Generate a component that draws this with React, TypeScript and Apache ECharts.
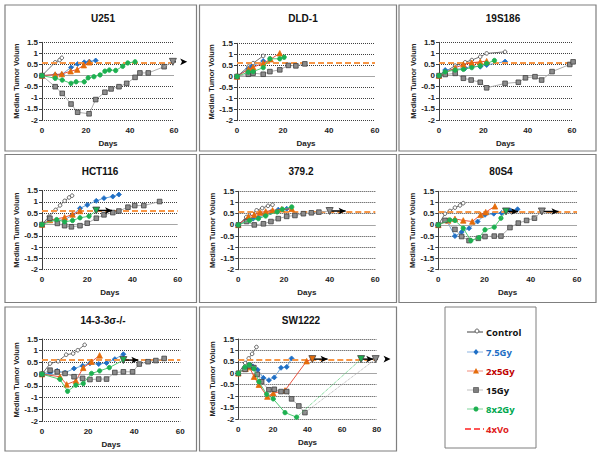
import React, { useEffect, useRef } from "react";
import * as echarts from "echarts";

type Pt = [number, number];

// ---------- data (days, median tumor volume) ----------
const TITLES = ["U251", "DLD-1", "19S186", "HCT116", "379.2", "80S4", "14-3-3σ-/-", "SW1222"];
const X_MAX = [60, 60, 60, 60, 60, 60, 60, 80];
const X_STEP = 20;
const Y_MIN = -2;
const Y_MAX = 1.5;
const Y_STEP = 0.5;
const FOUR_X_VOLUME = 0.6;

const U251_control: Pt[] = [[0, 0], [6, 0.6], [8, 0.7], [9, 0.8]];
const U251_g75: Pt[] = [[0, 0], [6, 0.04], [9, 0.05], [13.2, 0.37], [16.2, 0.52], [19.2, 0.6], [21.5, 0.63], [24.4, 0.68]];
const U251_g2x5: Pt[] = [[0, 0], [6, 0.05], [9, 0.07], [13, 0.2], [16, 0.27], [19, 0.47], [21.5, 0.6]];
const U251_g15: Pt[] = [[0, 0], [6, -0.5], [9.2, -0.8], [13.2, -1.28], [16.2, -1.65], [21.4, -1.72], [24.4, -1.08], [28.6, -0.75], [31.4, -0.6], [35, -0.5], [38.5, -0.35], [42.3, -0.08], [44.5, 0.12], [48.3, 0.12], [55.5, 0.4]];
const U251_g8x2: Pt[] = [[0, 0], [6, -0.12], [9.2, -0.2], [13.2, -0.35], [15.5, -0.28], [19.2, -0.28], [21, -0.1], [23.6, -0.05], [26.4, 0.03], [28.6, 0.2], [30.6, 0.25], [33.5, 0.23], [36.7, 0.42], [39, 0.57], [42.3, 0.62]];

const DLD1_control: Pt[] = [[0, 0], [5, 0.45], [7, 0.6], [11.4, 0.93]];
const DLD1_g75: Pt[] = [[0, 0], [4.9, 0.35], [6.4, 0.45], [11.4, 0.7]];
const DLD1_g2x5: Pt[] = [[0, 0], [5, 0.33], [7, 0.42], [11.4, 0.6], [14.6, 0.78], [18.6, 1.05]];
const DLD1_g15: Pt[] = [[0, 0], [4.9, 0.1], [7, 0.15], [11.4, 0.1], [14.3, 0.22], [18.6, 0.3], [22.3, 0.5], [25.6, 0.48], [29.5, 0.57]];
const DLD1_g8x2: Pt[] = [[0, 0], [4.9, 0.2], [7, 0.22], [11.4, 0.4], [14.3, 0.8], [18.6, 0.8], [20.5, 0.87]];

const S19_control: Pt[] = [[0, 0], [7.3, 0.45], [11.8, 0.6], [14.8, 0.7], [18.6, 0.85], [21.5, 1.0], [29.8, 1.07]];
const S19_g75: Pt[] = [[0, 0], [2.8, 0.25], [7.3, 0.28], [11.8, 0.33], [14.8, 0.43], [18.6, 0.4], [21.5, 0.48], [29.8, 0.63]];
const S19_g2x5: Pt[] = [[0, 0], [2.8, 0.13], [7.3, 0.35], [11, 0.5], [14.8, 0.58], [18.6, 0.62], [21.5, 0.65]];
const S19_g15: Pt[] = [[0, 0], [2.8, 0.05], [7.3, 0.1], [11, -0.12], [14.5, -0.2], [18.6, -0.3], [21.5, -0.55], [29.8, -0.35], [35.8, -0.3], [39, -0.1], [43.3, -0.05], [46.3, -0.2], [51, 0.18], [59, 0.5], [60.5, 0.62]];
const S19_g8x2: Pt[] = [[0, 0], [2.8, 0.17], [7.3, 0.25], [11, 0.28], [14.8, 0.36], [18.6, 0.44], [21.5, 0.55], [25, 0.68]];

const HCT_control: Pt[] = [[0, 0], [3, 0.35], [6, 0.65], [8, 0.85], [10, 1.05], [12, 1.2], [13.3, 1.28]];
const HCT_g75: Pt[] = [[0, 0], [3.5, 0.2], [10, 0.2], [13.5, 0.43], [16.8, 0.72], [20, 0.87], [24, 1.05], [27.4, 1.17], [31.3, 1.24], [34, 1.33]];
const HCT_g2x5: Pt[] = [[0, 0], [3.5, 0.2], [10, 0.32], [13.5, 0.45], [16.8, 0.6]];
const HCT_g15: Pt[] = [[0, 0], [3.5, 0.28], [6.8, 0.05], [10, -0.05], [13, -0.1], [16.8, -0.05], [20, 0.06], [24, 0.28], [27.4, 0.43], [31.3, 0.53], [34, 0.6], [38, 0.77], [41, 0.84], [45, 0.84], [52, 1.02]];
const HCT_g8x2: Pt[] = [[0, 0], [6.5, 0.22], [10, 0.12], [13.5, 0.18], [16.8, 0.3], [20.8, 0.37]];

const C379_control: Pt[] = [[0, 0], [3.5, 0.35], [6, 0.5], [8, 0.65], [10.5, 0.75], [13, 0.85], [15, 0.9]];
const C379_g75: Pt[] = [[0, 0], [4.4, 0.25], [6.5, 0.28], [8.8, 0.33], [11.7, 0.45], [14.2, 0.57], [17.5, 0.68], [21.2, 0.72]];
const C379_g2x5: Pt[] = [[0, 0], [4.4, 0.37], [7, 0.45], [9.5, 0.55], [12, 0.6], [15, 0.65], [19, 0.7], [23.4, 0.72]];
const C379_g15: Pt[] = [[0, 0], [3.6, 0.15], [7, 0], [11, 0.05], [14.3, 0.15], [17.5, 0.28], [21.2, 0.38], [24.8, 0.42], [28.5, 0.5], [32, 0.54], [35.3, 0.57]];
const C379_g8x2: Pt[] = [[0, 0], [5, 0.2], [8.8, 0.28], [12, 0.4], [17, 0.58], [19.3, 0.7], [23.4, 0.8]];

const S80_control: Pt[] = [[0, 0], [2.9, 0.5], [5, 0.62], [7.2, 0.77], [9.4, 0.87], [10.8, 0.97]];
const S80_g75: Pt[] = [[0, 0], [3.6, 0.2], [7.2, -0.5], [10.1, -0.32], [13.3, -0.15], [17, 0.15], [20.2, 0.45], [24, 0.5], [27.4, 0.53], [31, 0.65], [34.3, 0.7]];
const S80_g2x5: Pt[] = [[0, 0], [4.3, 0.2], [7.2, 0.27], [10.8, 0.2], [14.7, 0.15], [18.3, 0.45], [20.5, 0.57], [24.5, 0.83]];
const S80_g15: Pt[] = [[0, 0], [2.9, 0.2], [7.2, -0.2], [10.1, -0.52], [13.3, -0.7], [17.3, -0.6], [20.2, -0.52], [24.2, -0.5], [27.1, -0.5], [31, -0.12], [34.6, 0.08], [38.2, 0.2], [41.6, 0.3]];
const S80_g8x2: Pt[] = [[0, 0], [5, 0.22], [7.2, 0.2], [10.8, -0.15], [14.1, -0.7], [17.6, -0.57], [20.2, -0.22], [24.2, -0.1], [27.1, 0.3]];

const K14_control: Pt[] = [[0, 0], [3.5, 0.45], [7, 0.55], [10.5, 0.83], [13.5, 0.88], [15.5, 1.02], [18.5, 1.25]];
const K14_g75: Pt[] = [[0, 0], [3.5, 0.05], [6.6, 0.14], [10, 0.06], [13.9, 0.24], [17.6, 0.36], [20.8, 0.46], [24.6, 0.43], [28, 0.48], [31.6, 0.64], [35.3, 0.85]];
const K14_g2x5: Pt[] = [[0, 0], [7.8, -0.11], [10.7, -0.44], [14.7, -0.28], [17.9, 0.27], [21.5, 0.53], [25, 0.8]];
const K14_g15: Pt[] = [[0, 0], [3.5, 0.17], [6.6, 0.1], [10, 0.03], [13.9, -0.11], [17.6, -0.18], [20.8, -0.23], [24.6, -0.21], [28, -0.21], [31.6, 0.07], [35.3, 0.1], [39.3, 0.1], [42.2, 0.43], [46, 0.53], [49.4, 0.58], [53, 0.67]];
const K14_g8x2: Pt[] = [[0, 0], [7.8, -0.22], [11.1, -0.73], [14.7, -0.47], [17.9, -0.4], [21.5, 0.03], [25, 0.14], [29.2, 0.28]];

const SW_control: Pt[] = [[0, 0], [4, 0.45], [6, 0.65], [8, 0.85], [10.5, 1.15]];
const SW_g75: Pt[] = [[0, 0], [3.9, 0.2], [6.7, 0.36], [8.5, 0.3], [11.2, 0.15], [14.5, -0.2], [17.7, -0.3], [20.8, -0.18], [24.7, 0.24], [28, 0.28], [30.8, 0.65]];
const SW_g2x5: Pt[] = [[0, 0], [4.2, 0.2], [6.4, 0.27], [9.1, -0.15], [11.9, -0.5], [16.8, -1.02], [20.2, -0.87], [27, -0.75], [39.5, 0.53]];
const SW_g15: Pt[] = [[0, 0], [3.9, 0.17], [6.5, 0.33], [9, 0.25], [11, -0.05], [13.5, -0.37], [17.7, -0.72], [20.8, -0.7], [24.7, -0.8], [28, -0.8], [30.8, -1.12], [35, -1.43], [38.5, -1.72]];
const SW_g8x2: Pt[] = [[0, 0], [3.9, 0.27], [6.4, 0.37], [9, 0.2], [11.9, -0.37], [16.4, -0.92], [20.2, -1.12], [27, -1.72], [33.7, -1.92]];

// endpoints reaching 4x volume
type End = { kind: string; tri: Pt; arrowTo: number; dotted?: boolean };
const U251_ends: End[] = [{ kind: "g15", tri: [59.5, 0.62], arrowTo: 66 }];
const DLD1_ends: End[] = [];
const S19_ends: End[] = [];
const HCT_ends: End[] = [{ kind: "g8x2", tri: [24, 0.62], arrowTo: 31 }];
const C379_ends: End[] = [{ kind: "g15", tri: [40, 0.62], arrowTo: 47 }];
const S80_ends: End[] = [
  { kind: "g8x2", tri: [29.3, 0.6], arrowTo: 34.5 },
  { kind: "g15", tri: [44.8, 0.6], arrowTo: 52 },
];
const K14_ends: End[] = [{ kind: "g8x2", tri: [35.3, 0.6], arrowTo: 41.8 }];
const SW_ends: End[] = [
  { kind: "g2x5", tri: [42.8, 0.62], arrowTo: 51.6 },
  { kind: "g8x2", tri: [71, 0.62], arrowTo: 78, dotted: true },
  { kind: "g15", tri: [79.4, 0.62], arrowTo: 88, dotted: true },
];

const PANEL_DATA: Record<string, Pt[]>[] = [
  { control: U251_control, g75: U251_g75, g2x5: U251_g2x5, g15: U251_g15, g8x2: U251_g8x2 },
  { control: DLD1_control, g75: DLD1_g75, g2x5: DLD1_g2x5, g15: DLD1_g15, g8x2: DLD1_g8x2 },
  { control: S19_control, g75: S19_g75, g2x5: S19_g2x5, g15: S19_g15, g8x2: S19_g8x2 },
  { control: HCT_control, g75: HCT_g75, g2x5: HCT_g2x5, g15: HCT_g15, g8x2: HCT_g8x2 },
  { control: C379_control, g75: C379_g75, g2x5: C379_g2x5, g15: C379_g15, g8x2: C379_g8x2 },
  { control: S80_control, g75: S80_g75, g2x5: S80_g2x5, g15: S80_g15, g8x2: S80_g8x2 },
  { control: K14_control, g75: K14_g75, g2x5: K14_g2x5, g15: K14_g15, g8x2: K14_g8x2 },
  { control: SW_control, g75: SW_g75, g2x5: SW_g2x5, g15: SW_g15, g8x2: SW_g8x2 },
];
const PANEL_ENDS: End[][] = [U251_ends, DLD1_ends, S19_ends, HCT_ends, C379_ends, S80_ends, K14_ends, SW_ends];

const LEGEND_LABELS = ["Control", "7.5Gy", "2x5Gy", "15Gy", "8x2Gy", "4xVo"];

// ---------- layout & styles ----------
const FONT = "Liberation Sans, Arial, sans-serif";
const BOXES = [
  [5, 5, 191.5, 146], [199.5, 5, 197, 146], [399, 5, 197, 146],
  [5, 154.5, 191.5, 148], [199.5, 154.5, 197, 148], [399, 154.5, 197, 148],
  [5, 307, 191.5, 144], [199.5, 307, 197, 144],
];
const GRIDS = [
  [42, 42.3, 132, 77.7], [237, 43.3, 138, 77.4], [439, 42.3, 133, 77.7],
  [42, 190.7, 135.7, 79], [238.3, 191.3, 137, 78.4], [438.3, 191.3, 138.7, 78.4],
  [42, 339, 138.3, 82], [238.3, 339, 138.4, 80],
];
const TITLE_POS = [[103, 18], [303, 18], [503, 18], [100, 171], [301, 171], [501, 171], [103, 320], [301, 320]];

const STYLE: Record<string, any> = {
  control: { symbol: "circle", size: 3.6, fill: "#ffffff", border: "#404040", line: "#606060" },
  g75: { symbol: "diamond", size: 5, fill: "#1f6fc5", border: "#1f6fc5", line: "#5b9bd5" },
  g2x5: { symbol: "triangle", size: 5.5, fill: "#e46c0a", border: "#e46c0a", line: "#e8402a" },
  g15: { symbol: "rect", size: 4.6, fill: "#8c8c8c", border: "#404040", line: "#a6a6a6" },
  g8x2: { symbol: "circle", size: 4.4, fill: "#1db050", border: "#1db050", line: "#3cc462" },
};
const KINDS = ["control", "g75", "g2x5", "g15", "g8x2"];

function buildOption() {
  const grid: any[] = [];
  const xAxis: any[] = [];
  const yAxis: any[] = [];
  const series: any[] = [];
  const graphic: any[] = [];

  TITLES.forEach((title, i) => {
    const [l, t, w, h] = GRIDS[i];
    grid.push({ left: l, top: t, width: w, height: h, containLabel: false });
    xAxis.push({
      type: "value", gridIndex: i, min: 0, max: X_MAX[i], interval: X_STEP,
      name: "Days", nameLocation: "middle", nameGap: 19,
      nameTextStyle: { fontFamily: FONT, fontWeight: "bold", fontSize: 8, color: "#222" },
      axisLine: { show: false }, axisTick: { show: false }, splitLine: { show: false },
      axisLabel: { fontFamily: FONT, fontWeight: "bold", fontSize: 8, color: "#222", margin: 6 },
    });
    yAxis.push({
      type: "value", gridIndex: i, min: Y_MIN, max: Y_MAX, interval: Y_STEP,
      name: "Median Tumor Volum", nameLocation: "middle", nameGap: 22, nameRotate: 90,
      nameTextStyle: { fontFamily: FONT, fontWeight: "bold", fontSize: 7.5, color: "#222" },
      axisLine: { show: true, lineStyle: { color: "#404040", width: 1 } },
      axisTick: { show: true, length: 3, lineStyle: { color: "#404040" } },
      splitLine: { show: true, lineStyle: { color: "#404040", type: "dotted", width: 1 } },
      axisLabel: { fontFamily: FONT, fontWeight: "bold", fontSize: 8, color: "#222", margin: 4 },
    });

    const data = PANEL_DATA[i];
    KINDS.forEach((k, ki) => {
      const s = STYLE[k];
      const ser: any = {
        type: "line", xAxisIndex: i, yAxisIndex: i, data: data[k],
        symbol: s.symbol, symbolSize: s.size, showSymbol: true,
        itemStyle: { color: s.fill, borderColor: s.border, borderWidth: 0.8 },
        lineStyle: { color: s.line, width: 0.9 },
        silent: true, clip: false, z: 3 + ki,
      };
      if (ki === 0) {
        ser.markLine = {
          silent: true, symbol: ["none", "none"], label: { show: false },
          data: [
            { yAxis: 0, lineStyle: { color: "#a6a6a6", type: "solid", width: 1.2 } },
            { yAxis: FOUR_X_VOLUME, lineStyle: { color: "#f79646", type: [6, 3], width: 1.8 } },
          ],
        };
      }
      series.push(ser);
    });

    PANEL_ENDS[i].forEach((e) => {
      const s = STYLE[e.kind];
      const pts = data[e.kind];
      const last = pts[pts.length - 1];
      series.push({
        type: "line", xAxisIndex: i, yAxisIndex: i, clip: false, silent: true, z: 9,
        data: [
          { value: last, symbol: "none" },
          { value: e.tri, symbol: "triangle", symbolRotate: 180, symbolSize: 7 },
        ],
        itemStyle: { color: s.fill, borderColor: "#404040", borderWidth: 0.8 },
        lineStyle: { color: s.line, width: 0.9, type: e.dotted ? "dotted" : "solid" },
      });
      series.push({
        type: "line", xAxisIndex: i, yAxisIndex: i, clip: false, silent: true, z: 8,
        data: [
          { value: [e.tri[0] + 0.8, e.tri[1]], symbol: "none" },
          { value: [e.arrowTo, e.tri[1]], symbol: "arrow", symbolRotate: -90, symbolSize: [5, 7] },
        ],
        itemStyle: { color: "#000" },
        lineStyle: { color: "#000", width: 1.4 },
      });
    });

    const [bx, by, bw, bh] = BOXES[i];
    graphic.push({
      type: "rect", shape: { x: bx, y: by, width: bw, height: bh }, silent: true, z: -10,
      style: { fill: "none", stroke: "#7f7f7f", lineWidth: 1.2 },
    });
    graphic.push({
      type: "text", x: TITLE_POS[i][0], y: TITLE_POS[i][1], silent: true,
      style: { text: title, fill: "#111", fontFamily: FONT, fontWeight: "bold", fontSize: 10, textAlign: "center", textVerticalAlign: "middle" },
    });
  });

  // legend box
  graphic.push({
    type: "rect", shape: { x: 445, y: 307, width: 91, height: 141 }, silent: true,
    style: { fill: "#fff", stroke: "#7f7f7f", lineWidth: 1 },
  });
  const LY = [332, 352, 371, 390, 409, 429];
  const textColors = ["#111", "#1f6fc5", "#c00000", "#111", "#00a84f", "#e02020"];
  const lineColors = ["#404040", "#8db4e2", "#f28b7a", "#bfbfbf", "#7fd49a", "#ff2020"];
  LEGEND_LABELS.forEach((lab, j) => {
    const y = LY[j];
    if (j < 5) {
      graphic.push({ type: "line", shape: { x1: 467, y1: y, x2: 483, y2: y }, silent: true, style: { stroke: lineColors[j], lineWidth: 1 } });
    } else {
      graphic.push({ type: "line", shape: { x1: 465, y1: y, x2: 484, y2: y }, silent: true, style: { stroke: lineColors[j], lineWidth: 1.5, lineDash: [6, 3] } });
    }
    const cx = 476;
    if (j === 0) graphic.push({ type: "circle", shape: { cx: cx + 1, cy: y - 1, r: 2 }, silent: true, style: { fill: "#fff", stroke: "#404040", lineWidth: 0.8 } });
    if (j === 1) graphic.push({ type: "polygon", shape: { points: [[cx, y - 3], [cx + 2.5, y], [cx, y + 3], [cx - 2.5, y]] }, silent: true, style: { fill: "#1f6fc5" } });
    if (j === 2) graphic.push({ type: "polygon", shape: { points: [[cx, y - 3], [cx + 3, y + 2.5], [cx - 3, y + 2.5]] }, silent: true, style: { fill: "#e46c0a" } });
    if (j === 3) graphic.push({ type: "rect", shape: { x: cx - 2.5, y: y - 2.5, width: 5, height: 5 }, silent: true, style: { fill: "#7f7f7f", stroke: "#404040", lineWidth: 0.6 } });
    if (j === 4) graphic.push({ type: "circle", shape: { cx, cy: y, r: 2.5 }, silent: true, style: { fill: "#1db050" } });
    graphic.push({
      type: "text", x: 486, y, silent: true,
      style: { text: lab, fill: textColors[j], fontFamily: "Open Sans, Liberation Sans, sans-serif", fontWeight: "bold", fontSize: 9.5, textAlign: "left", textVerticalAlign: "middle" },
    });
  });

  return { animation: false, backgroundColor: "#ffffff", grid, xAxis, yAxis, series, graphic };
}

export default function App() {
  const ref = useRef<HTMLDivElement>(null);
  useEffect(() => {
    if (!ref.current) return;
    const chart = echarts.init(ref.current, undefined, { renderer: "svg" });
    chart.setOption(buildOption() as any);
    return () => chart.dispose();
  }, []);
  return <div ref={ref} style={{ position: "absolute", left: 0, top: 0, width: 600, height: 454, background: "#fff" }} />;
}
